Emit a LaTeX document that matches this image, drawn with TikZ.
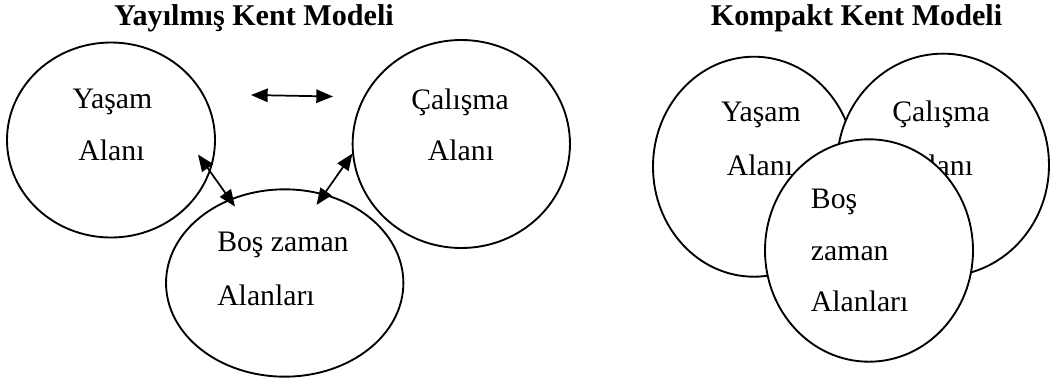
\documentclass[tikz,border=0pt]{standalone}
\usepackage{fontspec}
\setmainfont{Liberation Serif}
\usetikzlibrary{shapes.geometric,arrows.meta}

\tikzset{
  area/.style={draw, ellipse, line width=1.4pt, fill=white, inner sep=0pt},
  lbl/.style={inner sep=0pt, font=\fontsize{22.3}{26}\selectfont},
  ttl/.style={inner sep=0pt, font=\fontsize{22.6}{26}\selectfont\bfseries},
  link/.style={arrows={Triangle[length=12.5pt,width=10pt]-Triangle[length=12.5pt,width=10pt]}, line width=1.3pt}
}

\begin{document}
\begin{tikzpicture}[x=0.75pt,y=0.75pt,yscale=-1,xscale=1]
\useasboundingbox (0,0) rectangle (1051,383);

% Text Node
\node [ttl, anchor=base] (titleSprawl) at (254,25) {Yayılmış Kent Modeli};
% Text Node
\node [ttl, anchor=base] (titleCompact) at (856.5,25) {Kompakt Kent Modeli};

%Shape: Ellipse
\node [area, minimum width=156pt, minimum height=146.25pt] (yasamL) at (111,140) {};
%Shape: Ellipse
\node [area, minimum width=163pt, minimum height=156pt] (calismaL) at (461.3,144) {};
%Shape: Ellipse
\node [area, minimum width=178pt, minimum height=140.5pt] (bosL) at (284.7,283) {};

% Text Node
\node [lbl, anchor=base] (yasamL1) at (112.5,108) {Yaşam};
\node [lbl, anchor=base] (yasamL2) at (111.5,160) {Alanı};
% Text Node
\node [lbl, anchor=base] (calismaL1) at (460,109) {Çalışma};
\node [lbl, anchor=base] (calismaL2) at (461,160) {Alanı};
% Text Node
\node [lbl, anchor=base west] (bosL1) at (217,251.7) {Boş zaman};
\node [lbl, anchor=base west] (bosL2) at (217,305) {Alanları};

%Straight Lines
\coordinate (hzA) at (251,95);
\coordinate (hzB) at (333,96.5);
\draw [link] (hzA) -- (hzB);
%Straight Lines
\coordinate (ltA) at (198,154.5);
\coordinate (ltB) at (235,206.5);
\draw [link] (ltA) -- (ltB);
%Straight Lines
\coordinate (rtA) at (352.5,153.5);
\coordinate (rtB) at (316.5,205);
\draw [link] (rtA) -- (rtB);

%Shape: Ellipse
\node [area, minimum width=151.5pt, minimum height=165pt] (yasamR) at (754,166.7) {};
% Text Node
\node [lbl, anchor=base] (yasamR1) at (761,121.7) {Yaşam};
\node [lbl, anchor=base] (yasamR2) at (760,175) {Alanı};
%Shape: Ellipse
\node [area, minimum width=159pt, minimum height=167pt] (calismaR) at (943,165) {};
% Text Node
\node [lbl, anchor=base] (calismaR1) at (941,121.7) {Çalışma};
\node [lbl, anchor=base] (calismaR2) at (940,175) {Alanı};
%Shape: Ellipse
\node [area, minimum width=156pt, minimum height=166.8pt] (bosR) at (869,250.5) {};
% Text Node
\node [lbl, anchor=base west] (bosR1) at (810.7,208.3) {Boş};
\node [lbl, anchor=base west] (bosR2) at (810.7,260) {zaman};
\node [lbl, anchor=base west] (bosR3) at (810.7,311.7) {Alanları};

\end{tikzpicture}
\end{document}
